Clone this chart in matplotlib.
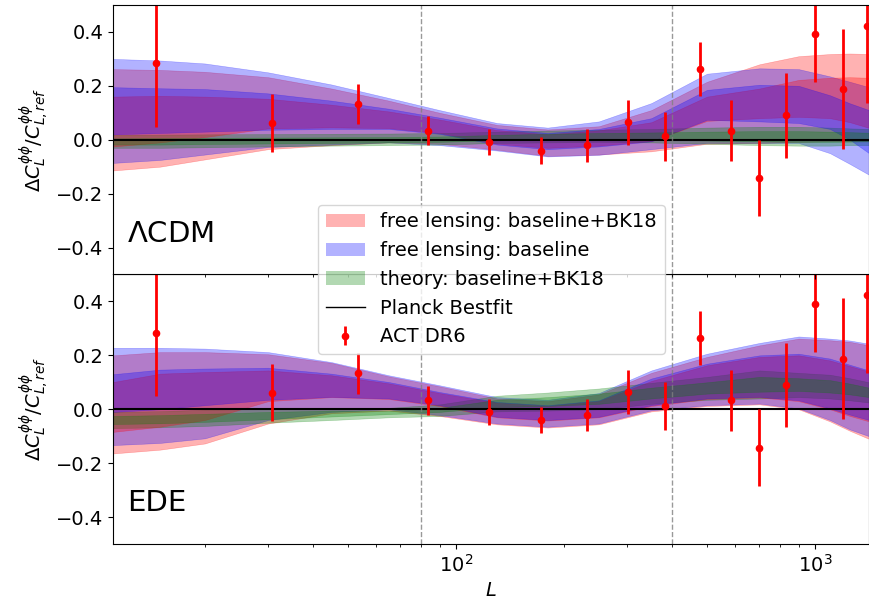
import matplotlib
matplotlib.use("Agg")
import matplotlib.pyplot as plt
from matplotlib.patches import Patch
from matplotlib.lines import Line2D

plt.rcParams['font.size'] = 14

# multipole nodes for the bands
L = [11.1, 15, 20, 30, 45, 65, 90, 130, 180, 250, 350, 500, 700, 900, 1100, 1250, 1413]

# LCDM panel: (lo95, lo68, hi68, hi95)
lcdm_red = (
    [-0.114, -0.100, -0.073, -0.035, -0.020, -0.010, -0.015, -0.037, -0.060, -0.055, -0.043, -0.015, -0.012, -0.008, -0.006, -0.006, -0.006],
    [-0.025, -0.010, 0.010, 0.042, 0.046, 0.043, 0.025, -0.015, -0.030, -0.022, -0.005, 0.070, 0.080, 0.085, 0.080, 0.065, 0.044],
    [0.160, 0.163, 0.160, 0.152, 0.130, 0.105, 0.075, 0.036, 0.020, 0.035, 0.065, 0.160, 0.190, 0.222, 0.230, 0.232, 0.230],
    [0.262, 0.259, 0.252, 0.232, 0.190, 0.145, 0.100, 0.055, 0.038, 0.050, 0.110, 0.215, 0.280, 0.310, 0.318, 0.320, 0.318],
)
lcdm_blue = (
    [-0.086, -0.075, -0.055, -0.027, -0.018, -0.010, -0.020, -0.040, -0.062, -0.056, -0.035, -0.012, -0.012, -0.012, -0.050, -0.090, -0.130],
    [0.020, 0.025, 0.030, 0.037, 0.040, 0.040, 0.022, -0.018, -0.035, -0.025, -0.006, 0.074, 0.068, 0.062, 0.040, 0.000, -0.050],
    [0.195, 0.191, 0.188, 0.172, 0.145, 0.115, 0.082, 0.042, 0.025, 0.040, 0.080, 0.185, 0.204, 0.200, 0.165, 0.135, 0.110],
    [0.300, 0.294, 0.283, 0.250, 0.205, 0.155, 0.110, 0.062, 0.045, 0.068, 0.136, 0.245, 0.265, 0.262, 0.235, 0.215, 0.195],
)
lcdm_green = (
    [-0.030, -0.030, -0.028, -0.025, -0.022, -0.020, -0.018, -0.012, -0.010, -0.008, -0.010, -0.015, -0.020, -0.022, -0.022, -0.020, -0.020],
    [-0.018, -0.018, -0.016, -0.014, -0.012, -0.010, -0.008, -0.002, 0.000, 0.002, 0.000, -0.003, -0.006, -0.008, -0.008, -0.007, -0.006],
    [0.005, 0.006, 0.007, 0.008, 0.009, 0.010, 0.012, 0.018, 0.022, 0.025, 0.027, 0.030, 0.032, 0.032, 0.030, 0.028, 0.026],
    [0.018, 0.019, 0.020, 0.021, 0.022, 0.023, 0.025, 0.030, 0.034, 0.037, 0.040, 0.045, 0.048, 0.048, 0.045, 0.042, 0.040],
)

# EDE panel
ede_red = (
    [-0.164, -0.150, -0.127, -0.053, -0.015, -0.005, -0.025, -0.056, -0.068, -0.056, -0.008, 0.012, 0.018, 0.000, -0.045, -0.080, -0.110],
    [-0.084, -0.065, -0.040, 0.030, 0.045, 0.038, 0.012, -0.030, -0.042, -0.030, 0.012, 0.038, 0.044, 0.030, 0.000, -0.025, -0.045],
    [0.101, 0.132, 0.138, 0.144, 0.126, 0.096, 0.060, 0.024, 0.012, 0.030, 0.105, 0.163, 0.194, 0.200, 0.181, 0.160, 0.140],
    [0.200, 0.212, 0.212, 0.204, 0.172, 0.122, 0.085, 0.040, 0.030, 0.055, 0.135, 0.194, 0.237, 0.262, 0.256, 0.250, 0.237],
)
ede_blue = (
    [-0.133, -0.125, -0.108, -0.040, -0.010, 0.000, -0.022, -0.053, -0.065, -0.053, -0.004, 0.015, 0.021, 0.003, -0.040, -0.075, -0.100],
    [-0.010, 0.000, 0.015, 0.035, 0.046, 0.040, 0.015, -0.028, -0.040, -0.028, 0.015, 0.040, 0.046, 0.033, 0.003, -0.020, -0.040],
    [0.130, 0.147, 0.151, 0.154, 0.132, 0.101, 0.064, 0.027, 0.015, 0.033, 0.114, 0.169, 0.200, 0.206, 0.188, 0.165, 0.144],
    [0.228, 0.228, 0.225, 0.212, 0.175, 0.126, 0.089, 0.045, 0.035, 0.060, 0.144, 0.206, 0.246, 0.270, 0.262, 0.255, 0.243],
)
ede_green = (
    [-0.070, -0.067, -0.062, -0.050, -0.040, -0.030, -0.025, -0.008, -0.005, 0.000, 0.020, 0.035, 0.040, 0.045, 0.040, 0.033, 0.025],
    [-0.055, -0.052, -0.047, -0.037, -0.027, -0.018, -0.010, 0.008, 0.012, 0.020, 0.040, 0.058, 0.065, 0.068, 0.062, 0.055, 0.045],
    [-0.025, -0.022, -0.017, -0.010, -0.005, -0.006, 0.005, 0.035, 0.045, 0.058, 0.080, 0.100, 0.120, 0.115, 0.108, 0.095, 0.080],
    [-0.010, -0.007, -0.002, 0.003, 0.005, 0.005, 0.018, 0.050, 0.062, 0.077, 0.098, 0.120, 0.144, 0.135, 0.128, 0.115, 0.100],
)

# ACT DR6 bandpowers
L_act = [14.6, 30.7, 53.2, 83.7, 123.3, 172.5, 232, 302, 383, 477, 582, 700, 832, 1000, 1199, 1396]
y_act = [0.284, 0.062, 0.133, 0.034, -0.010, -0.040, -0.021, 0.064, 0.012, 0.264, 0.034, -0.142, 0.090, 0.391, 0.188, 0.423]
err_act = [0.235, 0.107, 0.075, 0.054, 0.048, 0.050, 0.060, 0.082, 0.090, 0.100, 0.113, 0.142, 0.157, 0.177, 0.224, 0.287]

fig, (ax1, ax2) = plt.subplots(2, 1, sharex=True, figsize=(8.7, 6.07), dpi=100)
fig.subplots_adjust(left=0.130, right=0.9989, top=0.9918, bottom=0.1038, hspace=0)

panels = [(ax1, lcdm_red, lcdm_blue, lcdm_green, r'$\Lambda$CDM'),
          (ax2, ede_red, ede_blue, ede_green, 'EDE')]

for ax, red, blue, green, name in panels:
    # outer (95%) bands first, then inner (68%) bands
    for lo, hi in [(0, 3), (1, 2)]:
        for band, c in [(red, 'red'), (blue, 'blue'), (green, 'green')]:
            ax.fill_between(L, band[lo], band[hi], color=c, alpha=0.3, lw=0.4)
    ax.axhline(0, color='black', lw=1.5)
    ax.errorbar(L_act, y_act, yerr=err_act, fmt='o', color='red', ms=4.5, elinewidth=2)
    ax.axvline(80, color='gray', ls='--', lw=1, alpha=0.8)
    ax.axvline(400, color='gray', ls='--', lw=1, alpha=0.8)
    ax.set_xscale('log')
    ax.set_xlim(11.1, 1413)
    ax.set_ylim(-0.5, 0.5)
    ax.set_yticks([-0.4, -0.2, 0.0, 0.2, 0.4])
    ax.set_ylabel(r'$\Delta C_L^{\phi\phi}/C_{L,ref}^{\phi\phi}$')
    ax.text(0.0185, 0.1, name, transform=ax.transAxes, fontsize=21, va='bottom')

ax2.set_xlabel(r'$L$')

handles = [Patch(facecolor='red', alpha=0.3, edgecolor='none'),
           Patch(facecolor='blue', alpha=0.3, edgecolor='none'),
           Patch(facecolor='green', alpha=0.3, edgecolor='none'),
           Line2D([], [], color='black', lw=1)]
labels = ['free lensing: baseline+BK18', 'free lensing: baseline', 'theory: baseline+BK18', 'Planck Bestfit']
eb = ax1.errorbar([], [], yerr=[], fmt='o', color='red', ms=4.5, elinewidth=2)
handles.append(eb)
labels.append('ACT DR6')
ax1.set_zorder(3)
ax1.legend(handles, labels, loc='upper left', bbox_to_anchor=(0.271, 0.259),
           borderaxespad=0, fontsize=14)

fig.savefig('out.png', dpi=100)
